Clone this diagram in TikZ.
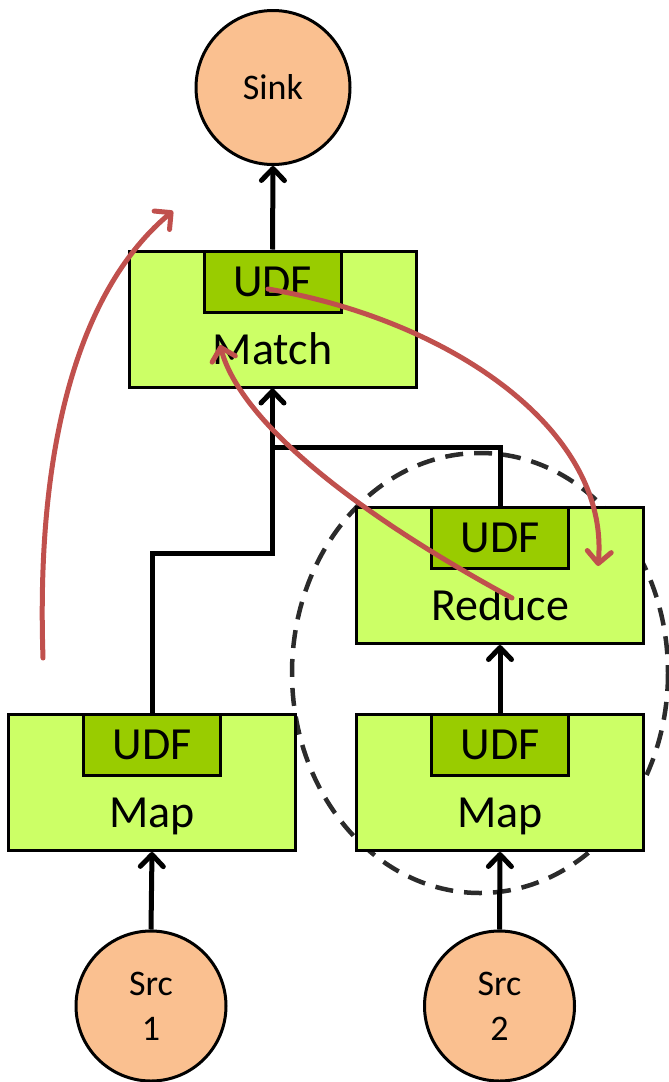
\documentclass[tikz,border=0pt]{standalone}
\usepackage{fontspec}
\setmainfont{Carlito}
\usetikzlibrary{arrows.meta,positioning}

\definecolor{opfill}{HTML}{CCFF66}
\definecolor{udffill}{HTML}{99CC00}
\definecolor{endfill}{HTML}{FAC090}
\definecolor{flowred}{HTML}{C0504D}
\definecolor{groupgray}{HTML}{2B2B2B}

\tikzset{
  opbox/.style={draw=black, line width=3pt, fill=opfill,
    minimum width=287pt, minimum height=136pt, inner sep=0pt},
  udfbox/.style={draw=black, line width=3pt, fill=udffill,
    minimum width=137pt, minimum height=61pt, inner sep=0pt, anchor=north,
    font=\fontsize{46}{50}\selectfont},
  oplabel/.style={anchor=base, inner sep=0pt, font=\fontsize{46}{50}\selectfont},
  endpoint/.style={circle, draw=black, line width=3pt, fill=endfill,
    inner sep=0pt, align=center, font=\fontsize{36}{45}\selectfont},
  flow/.style={line width=5pt, draw=black},
  flowarrow/.style={flow, -{Straight Barb[length=12pt,width=23pt,line width=5pt,round]}},
  udfflow/.style={line width=5pt, draw=flowred, line cap=round,
    -{Straight Barb[length=12pt,width=24pt,line width=5pt,round]}},
  group/.style={draw=groupgray, line width=4.5pt, dash pattern=on 18pt off 11pt}
}

\begin{document}
\begin{tikzpicture}[x=1pt, y=-1pt]
  \useasboundingbox (0,0) rectangle (669,1082);

  % operator grouping (reduce side)
  \draw[group] (480,673) ellipse [x radius=188, y radius=220];

  % end points
  \node[endpoint, minimum size=154pt] (sink) at (273,87.5) {Sink};
  \node[endpoint, minimum size=150pt] (src1) at (151,1006) {Src\\1};
  \node[endpoint, minimum size=150pt] (src2) at (499.5,1006) {Src\\2};

  % operators
  \node[opbox] (match)  at (272.5,319)   {};
  \node[opbox] (reduce) at (500,575.5)   {};
  \node[opbox] (lmap)   at (152,782.5)   {};
  \node[opbox] (rmap)   at (500,782.5)   {};

  \node[udfbox] (matchudf)  at (match.north)  {UDF};
  \node[udfbox] (reduceudf) at (reduce.north) {UDF};
  \node[udfbox] (lmapudf)   at (lmap.north)   {UDF};
  \node[udfbox] (rmapudf)   at (rmap.north)   {UDF};

  \node[oplabel] (matchtxt)  at ([yshift=-115pt]match.north)  {Match};
  \node[oplabel] (reducetxt) at ([yshift=-114pt]reduce.north) {Reduce};
  \node[oplabel] (lmaptxt)   at ([yshift=-114pt]lmap.north)   {Map};
  \node[oplabel] (rmaptxt)   at ([yshift=-114pt]rmap.north)   {Map};

  % data flow
  \coordinate (elbow) at (272.5,553);
  \coordinate (junc)  at (272.5,447);
  \draw[flowarrow] (src1.north) -- (lmap.south);
  \draw[flowarrow] (src2.north) -- (rmap.south);
  \draw[flowarrow] (rmap.north) -- (reduce.south);
  \draw[flowarrow] (lmap.north) |- (elbow) -- (match.south);
  \draw[flow] (reduce.north) |- (junc);
  \draw[flowarrow] (match.north) -- (sink.south);

  % UDF call flow
  \coordinate (upstart)  at (43,658);
  \coordinate (upend)    at (173,211);
  \coordinate (callfrom) at (268,289);
  \coordinate (callto)   at (598,566);
  \coordinate (retfrom)  at (512,598);
  \coordinate (retto)    at (220,345);
  \draw[udfflow] (upstart) .. controls (35,420) and (90,280) .. (upend);
  \draw[udfflow] (callfrom) .. controls (450,320) and (610,430) .. (callto);
  \draw[udfflow] (retfrom) .. controls (350,510) and (240,420) .. (retto);
\end{tikzpicture}
\end{document}
